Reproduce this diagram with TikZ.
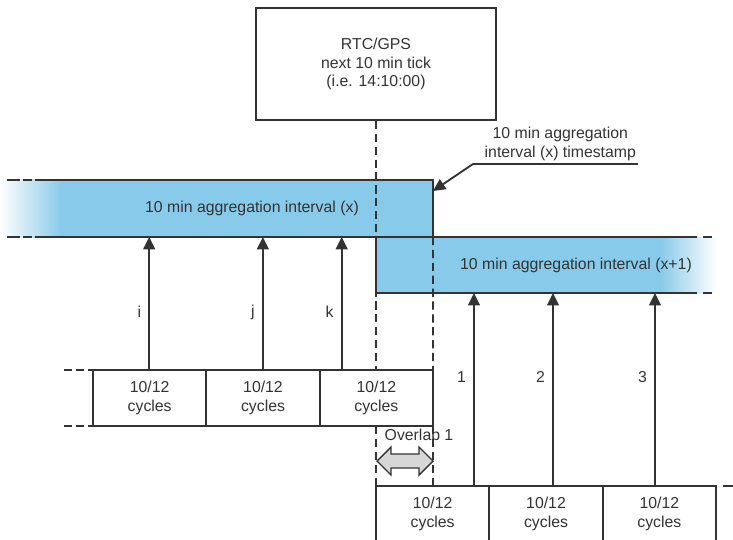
\documentclass[tikz,border=0pt]{standalone}
\usepackage{fontspec}
\setmainfont{Liberation Sans}
\usetikzlibrary{arrows.meta,positioning}

\definecolor{aggblue}{RGB}{136,202,233}
\definecolor{linegray}{RGB}{51,51,51}
\definecolor{ovlgray}{RGB}{215,215,215}

\tikzset{
  cycbox/.style={draw=linegray, fill=white, minimum width=3.4cm, minimum height=1.68cm,
    inner sep=0pt, outer sep=0pt, align=center},
  span/.style={inner sep=0pt, outer sep=0pt},
  tick/.style={-{Triangle[width=10pt,length=10.5pt]}},
  guide/.style={dash pattern=on 7pt off 4pt},
}

\begin{document}
\begin{tikzpicture}[x=0.03cm, y=-0.03cm, line width=1.6pt, color=linegray,
    font=\fontsize{13.5}{16}\selectfont]
  \useasboundingbox (0,0) rectangle (733,540);

  % Riempimento intervalli (sfumati ai bordi)
  \shade[left color=white, right color=aggblue] (0,180) rectangle (62,237);
  \fill[aggblue] (62,180) rectangle (433,237);
  \fill[aggblue] (376,237) rectangle (660,293);
  \shade[left color=aggblue, right color=white] (660,237) rectangle (717,293);

  % Riferimento RTC/GPS
  \node[draw, minimum width=7.2cm, minimum height=3.36cm, align=center] (rtc) at (376,64)
    {RTC/GPS\\next 10 min tick\\(i.e. 14:10:00)};

  % Intervalli di aggregazione
  \node[span, minimum width=11.94cm, minimum height=1.71cm] (intx) at (234,208.5) {};
  \node[span, minimum width=10.23cm, minimum height=1.68cm] (intx1) at (546.5,265) {};
  \node (intxtext) at (252,208) {10 min aggregation interval (x)};
  \node (intx1text) at (576,265) {10 min aggregation interval (x+1)};

  % Blocchi 10/12 cicli
  \node[cycbox, anchor=north west] (c1) at (93,370) {10/12\\cycles};
  \node[cycbox, right=0pt of c1] (c2) {10/12\\cycles};
  \node[cycbox, right=0pt of c2] (c3) {10/12\\cycles};
  \node[cycbox, anchor=north west] (r1) at (376,486) {10/12\\cycles};
  \node[cycbox, right=0pt of r1] (r2) {10/12\\cycles};
  \node[cycbox, right=0pt of r2] (r3) {10/12\\cycles};

  % Linee guida tratteggiate
  \draw[guide] (rtc.south) -- (rtc.south |- c3.north);
  \draw[guide] (rtc.south |- c3.south) -- (rtc.south |- r1.north);
  \draw[guide] (intx.south east) -- (c3.north east);
  \draw[guide] (c3.south east) -- (c3.south east |- r1.north);

  % Bordi intervalli
  \draw (intx.north west) -- (intx.north east) -- (intx.south east);
  \draw (intx.south west) -- ([xshift=-0.6cm]intx1.north east);
  \draw (intx1.north west) -- (intx1.south west) -- ([xshift=-0.6cm]intx1.south east);
  \draw[dash pattern=on 11pt off 2.5pt] (intx.north west) ++(-28,0) -- ++(25,0);
  \draw[dash pattern=on 11pt off 2.5pt] (intx.south west) ++(-28,0) -- ++(25,0);
  \draw ([xshift=-0.42cm]intx1.north east) -- ++(9,0);
  \draw ([xshift=-0.42cm]intx1.south east) -- ++(9,0);

  % Prolungamenti dei blocchi
  \draw[dash pattern=on 6.8pt off 3.4pt] (c1.north west) ++(-29,0) -- (c1.north west);
  \draw[dash pattern=on 6.8pt off 3.4pt] (c1.south west) ++(-29,0) -- (c1.south west);
  \draw (r3.north east) ++(7,0) -- ++(10,0);

  % Frecce dai blocchi agli intervalli
  \foreach \b/\dx/\t in {c1/-0.5/i, c2/-0.17/j, c3/-34.67/k}{
    \path (\b.north) ++(\dx,0) coordinate (foot\t);
    \draw[tick] (foot\t) -- (foot\t |- intx.south);
    \path (foot\t) ++(-6,-58) node[anchor=east, inner sep=1pt] (lab\t) {\t};
  }
  \foreach \b/\dx/\t in {r1/41.33/1, r2/7/2, r3/-4.33/3}{
    \path (\b.north) ++(\dx,0) coordinate (foot\t);
    \draw[tick] (foot\t) -- (foot\t |- intx1.south);
    \path (foot\t) ++(-6,-109) node[anchor=east, inner sep=1pt] (lab\t) {\t};
  }

  % Timestamp dell'intervallo (x)
  \node[anchor=south east, align=center, inner xsep=1pt, inner ysep=2pt] (stamp) at (638,164)
    {10 min aggregation\\interval (x) timestamp};
  \draw (stamp.south east) -- ++(-165,0) coordinate (stampfoot);
  \draw[tick] (stampfoot) -- ([yshift=-0.33cm]intx.north east);

  % Sovrapposizione
  \node (ovl) at (419,436) {Overlap 1};
  \draw[fill=ovlgray, line width=1.2pt] (377,461) -- (391,447) -- (391,454) -- (419,454)
    -- (419,447) -- (433,461) -- (419,475) -- (419,468) -- (391,468) -- (391,475) -- cycle;
\end{tikzpicture}
\end{document}
